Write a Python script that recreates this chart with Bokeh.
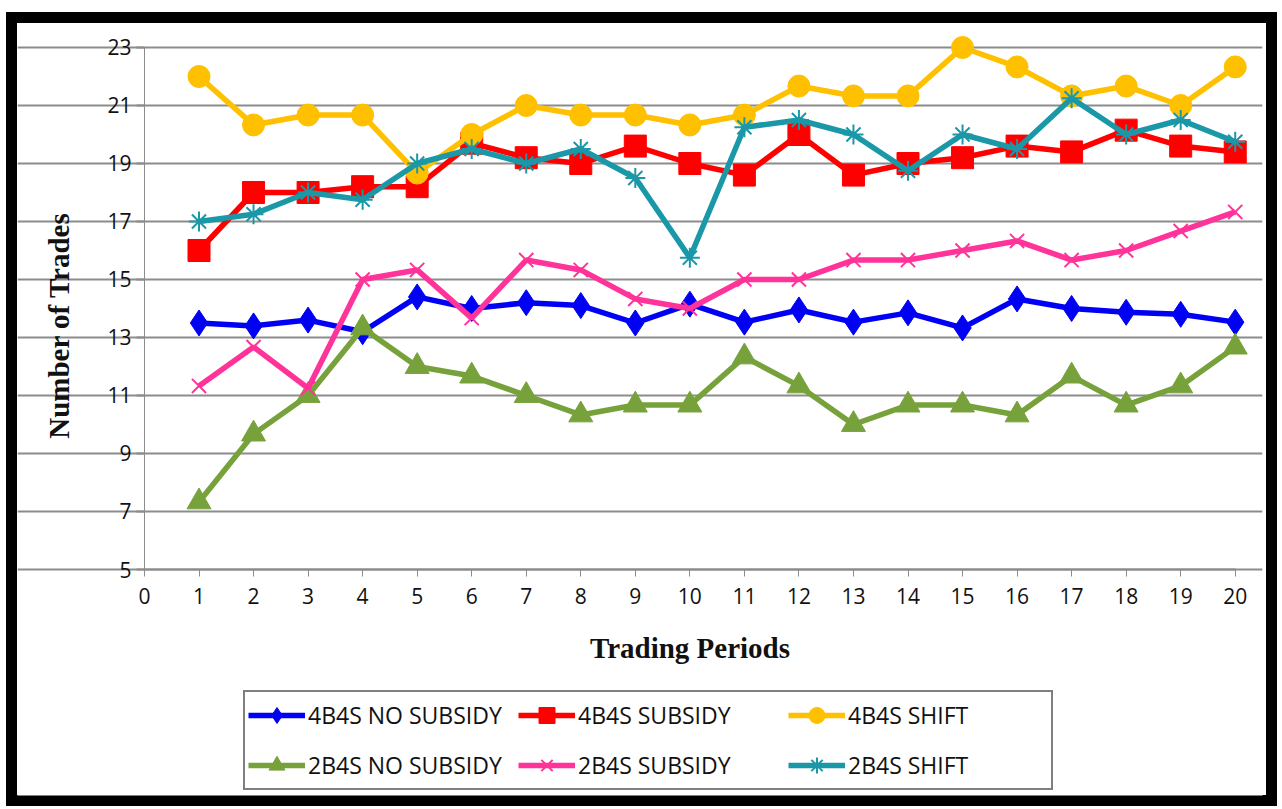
import math
from bokeh.plotting import figure
from bokeh.models import Range1d, FixedTicker, Legend, LegendItem, Label
from bokeh.embed import file_html
from bokeh.resources import INLINE

periods = list(range(1, 21))
series_names = ["4B4S NO SUBSIDY", "4B4S SUBSIDY", "4B4S SHIFT",
                "2B4S NO SUBSIDY", "2B4S SUBSIDY", "2B4S SHIFT"]
nosub_4b4s = [13.5, 13.4, 13.6, 13.2, 14.4, 14.0, 14.2, 14.1, 13.5, 14.15,
              13.53, 13.95, 13.53, 13.85, 13.33, 14.33, 14.0, 13.87, 13.8, 13.53]
sub_4b4s = [16.0, 18.0, 18.0, 18.2, 18.2, 19.7, 19.2, 19.0, 19.6, 19.0,
            18.6, 20.0, 18.6, 19.0, 19.2, 19.6, 19.4, 20.15, 19.6, 19.4]
shift_4b4s = [22.0, 20.33, 20.67, 20.67, 18.67, 20.0, 21.0, 20.67, 20.67, 20.33,
              20.67, 21.67, 21.33, 21.33, 23.0, 22.33, 21.33, 21.67, 21.0, 22.33]
nosub_2b4s = [7.33, 9.67, 11.0, 13.33, 12.0, 11.67, 11.0, 10.33, 10.67, 10.67,
              12.33, 11.33, 10.0, 10.67, 10.67, 10.33, 11.67, 10.67, 11.33, 12.67]
sub_2b4s = [11.33, 12.67, 11.25, 15.0, 15.33, 13.67, 15.67, 15.33, 14.33, 14.0,
            15.0, 15.0, 15.67, 15.67, 16.0, 16.33, 15.67, 16.0, 16.67, 17.33]
shift_2b4s = [17.0, 17.25, 18.0, 17.75, 19.0, 19.5, 19.0, 19.5, 18.5, 15.75,
              20.25, 20.5, 20.0, 18.75, 20.0, 19.5, 21.25, 20.0, 20.5, 19.75]
y_ticks = [5, 7, 9, 11, 13, 15, 17, 19, 21, 23]
x_ticks = list(range(0, 21))
x_title = "Trading Periods"
y_title = "Number of Trades"

W, H = 1271, 794
p = figure(width=W, height=H, output_backend="svg", toolbar_location=None,
           x_range=Range1d(-2.328, 20.5), y_range=Range1d(-2.793, 23.586),
           min_border_left=11, min_border_right=15,
           min_border_top=18, min_border_bottom=11)
p.outline_line_color = None
p.background_fill_color = "white"
p.border_fill_color = None
p.styles = {"margin-left": "6px", "margin-top": "12px",
            "box-shadow": "inset 0 0 0 11px black"}

grid_col = "#8c8c8c"
p.xgrid.visible = False
p.ygrid.ticker = FixedTicker(ticks=y_ticks)
p.ygrid.grid_line_color = grid_col
p.ygrid.grid_line_width = 2
p.ygrid.bounds = (0, 20)

xa = p.xaxis[0]
xa.fixed_location = 5
xa.ticker = FixedTicker(ticks=x_ticks)
xa.bounds = (0, 20)
xa.axis_line_color = grid_col
xa.axis_line_width = 2
xa.major_tick_line_color = grid_col
xa.major_tick_out = 7
xa.major_tick_in = 0
xa.minor_tick_line_color = None
xa.major_label_text_font = "Open Sans"
xa.major_label_text_font_size = "21px"
xa.major_label_text_color = "#111111"
xa.major_label_standoff = 11
xa.axis_label = x_title
xa.axis_label_text_font = "Liberation Serif"
xa.axis_label_text_font_style = "bold"
xa.axis_label_text_font_size = "29px"
xa.axis_label_text_color = "#111111"
xa.axis_label_standoff = 25

ya = p.yaxis[0]
ya.fixed_location = 0
ya.ticker = FixedTicker(ticks=y_ticks)
ya.bounds = (5, 23)
ya.axis_line_color = grid_col
ya.axis_line_width = 1
ya.major_tick_line_color = grid_col
ya.major_tick_line_width = 2
ya.major_tick_out = 8
ya.major_tick_in = 0
ya.minor_tick_line_color = None
ya.major_label_text_font = "Open Sans"
ya.major_label_text_font_size = "21px"
ya.major_label_text_color = "#111111"
ya.major_label_standoff = 5

ylab = Label(x=41, y=470, x_units="screen", y_units="screen", text=y_title,
             angle=math.pi / 2, text_align="center", text_baseline="middle",
             text_font="Liberation Serif", text_font_style="bold",
             text_font_size="29px", text_color="#111111")
p.add_layout(ylab)

styles = [
    ("#0000F5", "diamond", 26, None),
    ("#FF0000", "square", 22, None),
    ("#FFC000", "circle", 22, None),
    ("#77A23B", "triangle", 24, None),
    ("#FF3399", "x", 20, 2),
    ("#1A98A8", "asterisk", 20, 2),
]
data = [nosub_4b4s, sub_4b4s, shift_4b4s, nosub_2b4s, sub_2b4s, shift_2b4s]

items = []
for name, vals, (col, mk, sz, lw) in zip(series_names, data, styles):
    r_line = p.line(periods, vals, line_color=col, line_width=5.5)
    kw = dict(marker=mk, size=sz, fill_color=col, line_color=col)
    if lw:
        kw["line_width"] = lw
    r_mk = p.scatter(periods, vals, **kw)
    items.append(LegendItem(label=name, renderers=[r_line, r_mk]))

legend = Legend(items=items, location=(226, 5), ncols=3,
                orientation="horizontal",
                glyph_width=57, glyph_height=40, label_standoff=3,
                label_width=200, spacing=10, padding=3, margin=0,
                label_text_font="Open Sans", label_text_font_size="23px",
                label_text_color="#111111",
                border_line_color="black", border_line_width=2,
                background_fill_color="white", background_fill_alpha=1)
p.add_layout(legend, "center")

open("out.html", "w").write(file_html(p, INLINE))
